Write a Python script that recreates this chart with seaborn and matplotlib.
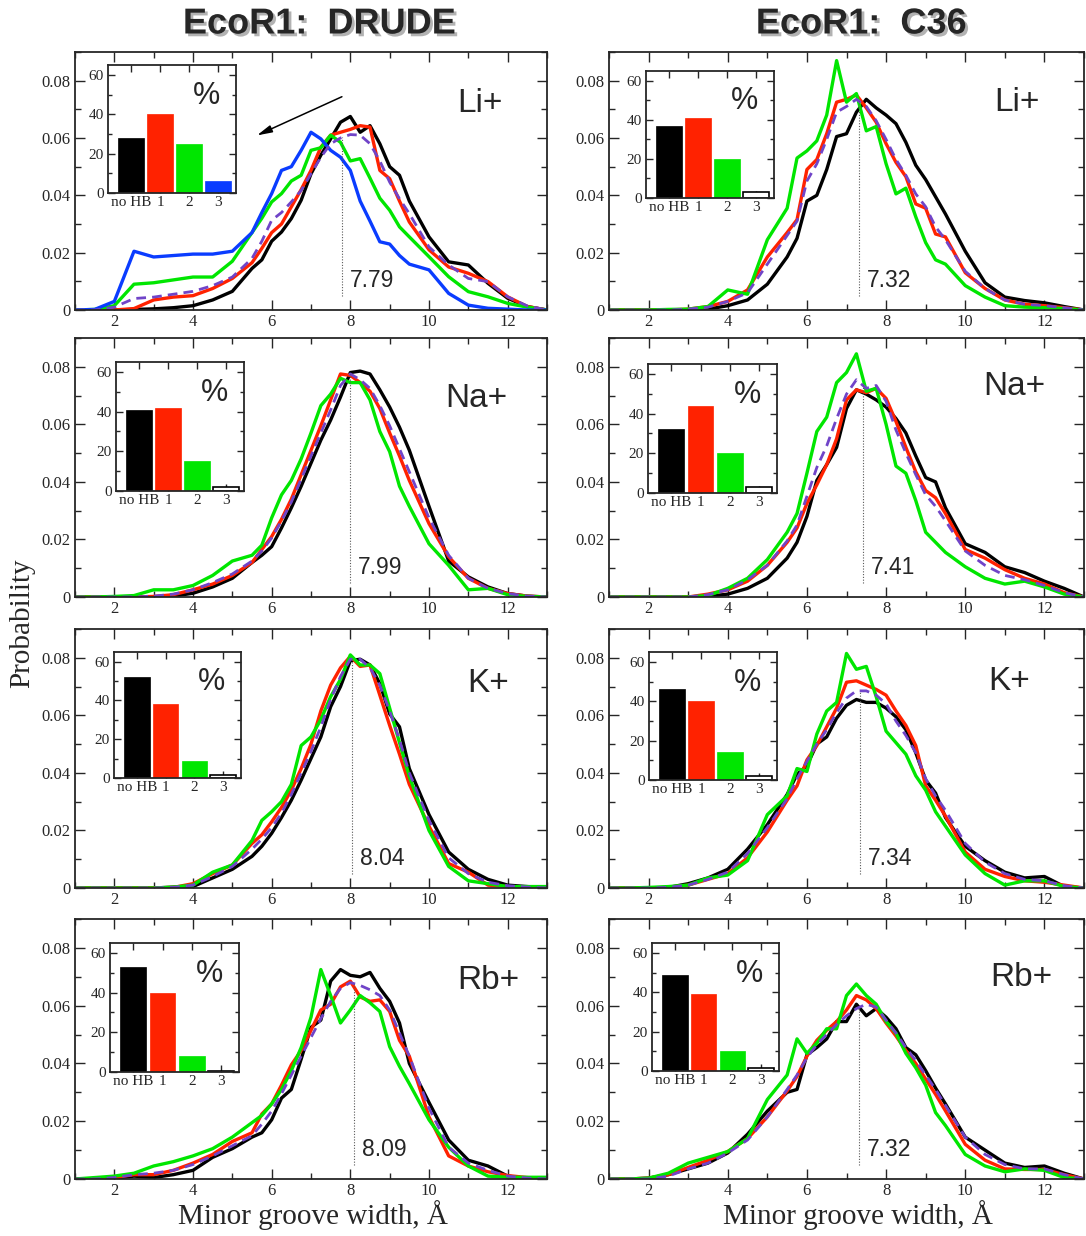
import numpy as np
import matplotlib
matplotlib.use('Agg')
import matplotlib.pyplot as plt
import matplotlib.patheffects as pe
from matplotlib.ticker import MultipleLocator, FuncFormatter
from matplotlib import font_manager
import seaborn as sns

# minor groove width grid (Angstrom), shared by every curve
width = [1, 1.5, 2, 2.5, 3, 3.5, 4, 4.5, 5, 5.5, 5.75, 6, 6.25, 6.5, 6.75, 7, 7.25,
         7.5, 7.75, 8, 8.25, 8.5, 8.75, 9, 9.25, 9.5, 10, 10.5, 11, 11.5, 12, 12.5, 13]

ions = ['Li+', 'Na+', 'K+', 'Rb+']
hb_cats = ['no HB', '1', '2', '3']

# ---------------- DRUDE ----------------
drude_li_nohb = [0, 0, 0, .0002, .0004, .0008, .0015, .0035, .0065, .0145, .0175, .024, .0272, .0319, .0383, .0475, .054,
                 .0597, .0655, .0675, .062, .0643, .058, .050, .047, .038, .0255, .0168, .0157, .0093, .0041, .0012, 0]
drude_li_hb1 = [0, 0, 0, .0005, .0035, .0045, .005, .0075, .011, .0165, .0215, .027, .030, .036, .042, .0487, .0568,
                .061, .062, .063, .0643, .0638, .0487, .0458, .038, .0307, .021, .015, .0128, .0099, .0046, .0012, 0]
drude_li_hb2 = [0, .0002, .0015, .009, .0095, .0105, .0115, .0115, .017, .027, .032, .0377, .0406, .045, .047, .0557, .0566,
                .061, .0585, .052, .0528, .046, .039, .0348, .029, .0255, .0186, .0116, .0064, .0046, .0023, .001, 0]
drude_li_hb3 = [0, .0002, .003, .0205, .0185, .019, .0195, .0195, .0205, .027, .034, .0406, .0487, .050, .0557, .062, .0597,
                .0557, .0533, .0487, .038, .031, .0238, .023, .019, .016, .014, .0058, .0017, .0006, .0003, 0, 0]
drude_li_all = [0, 0, .001, .004, .0045, .0055, .0065, .0085, .0115, .018, .024, .0313, .034, .0377, .0417, .0475, .0533,
                .058, .060, .0612, .061, .058, .052, .0446, .0388, .0336, .022, .0157, .011, .0099, .0046, .0014, 0]

drude_na_nohb = [0, 0, 0, 0, 0, .0003, .0013, .0035, .0065, .012, .0145, .0175, .024, .031, .0385, .0465, .0545,
                 .0615, .0695, .078, .0785, .0775, .072, .066, .059, .051, .0315, .0125, .007, .0035, .0012, .0003, 0]
drude_na_hb1 = [0, 0, 0, 0, .0002, .0008, .0025, .0045, .0075, .012, .0165, .021, .027, .034, .0425, .051, .0595,
                .0685, .0775, .077, .0745, .0715, .0655, .057, .049, .0405, .0255, .014, .0065, .003, .0012, .0003, 0]
drude_na_hb2 = [0, 0, .0002, .0005, .0025, .0025, .004, .0075, .0125, .0145, .018, .0275, .0355, .0405, .048, .057, .0665,
                .0705, .076, .0745, .0745, .0685, .0575, .0505, .0385, .0315, .0185, .011, .0025, .003, .0008, .0002, 0]
drude_na_all = [0, 0, 0, 0, .0003, .001, .0025, .005, .008, .0125, .016, .0205, .0265, .033, .041, .049, .057,
                .065, .0735, .0775, .0755, .0725, .0665, .0595, .0515, .0435, .0275, .0145, .0065, .003, .0012, .0003, 0]

drude_k_nohb = [0, 0, 0, 0, 0, .0003, .0005, .0035, .0065, .011, .0145, .019, .0245, .0305, .0375, .045, .0525,
                .063, .070, .079, .0795, .0775, .071, .0605, .056, .0415, .0255, .0125, .0065, .003, .001, .0005, 0]
drude_k_hb1 = [0, 0, 0, 0, 0, .0002, .0015, .005, .008, .0155, .0185, .023, .028, .034, .0415, .050, .0615,
               .0705, .0765, .0805, .077, .0775, .067, .0565, .0465, .036, .0215, .0085, .0055, .001, .0005, .0002, 0]
drude_k_hb2 = [0, 0, 0, 0, 0, .0003, .001, .0055, .008, .0165, .0235, .0265, .030, .036, .0495, .0525, .0585,
               .0665, .0725, .081, .0775, .0775, .0745, .0625, .0505, .0388, .020, .0075, .0025, .0015, .0005, .0005, .0005]
drude_k_all = [0, 0, 0, 0, 0, .0002, .001, .004, .0075, .0135, .017, .021, .026, .0325, .040, .0475, .056,
               .0655, .0735, .0795, .0795, .0765, .0705, .0615, .0515, .040, .0235, .0105, .005, .002, .0008, .0003, 0]

drude_rb_nohb = [0, 0, .0002, .001, .0005, .0015, .003, .0075, .0105, .0145, .016, .0205, .028, .031, .0415, .0525, .055,
                 .0685, .0725, .0705, .070, .0715, .066, .0615, .054, .040, .0265, .0135, .0065, .0045, .001, .0002, 0]
drude_rb_hb1 = [0, 0, .0005, .0015, .0015, .003, .0055, .0085, .013, .016, .0225, .026, .0325, .0395, .0445, .0515, .0585,
                .0605, .0665, .0685, .063, .0615, .062, .058, .048, .0425, .0215, .008, .0045, .0025, .0012, .0005, 0]
drude_rb_hb2 = [0, .0005, .001, .002, .0045, .006, .008, .0105, .0145, .0195, .022, .026, .031, .0375, .0455, .056, .0725,
                .0635, .054, .0585, .0635, .061, .058, .0458, .039, .033, .0205, .011, .0045, .001, .0006, .0006, .0006]
drude_rb_all = [0, 0, .0005, .0015, .002, .003, .005, .008, .0115, .015, .019, .0235, .0295, .036, .0425, .049, .0555,
                .0615, .066, .068, .067, .0655, .0635, .0585, .0505, .0425, .0245, .011, .0055, .003, .001, .0003, 0]

# ---------------- C36 ----------------
c36_li_nohb = [0, 0, 0, 0, 0, .0003, .0015, .0035, .009, .0185, .025, .038, .040, .049, .0605, .0615, .069,
               .0735, .0705, .068, .065, .0585, .0505, .0455, .0395, .0335, .0205, .0095, .0045, .0033, .0025, .0012, 0]
c36_li_hb1 = [0, 0, 0, 0, .0003, .0012, .003, .007, .0185, .027, .0315, .049, .0525, .0615, .0725, .0735, .075,
              .0705, .0655, .058, .0515, .0465, .037, .0355, .0265, .0255, .013, .0075, .0035, .002, .0015, .0008, 0]
c36_li_hb2 = [0, 0, 0, .0002, .0003, .0012, .007, .0055, .0245, .0355, .053, .0555, .059, .068, .087, .0725, .0755,
              .0625, .064, .051, .0405, .0425, .0325, .0235, .0175, .016, .0085, .0045, .0015, .001, .0008, .0005, 0]
c36_li_all = [0, 0, 0, 0, .0003, .001, .003, .006, .016, .026, .031, .045, .051, .0595, .069, .071, .0735,
              .071, .066, .0595, .0525, .047, .0405, .036, .029, .0245, .0135, .0075, .0035, .002, .0015, .0008, 0]

c36_na_nohb = [0, 0, 0, 0, 0, .0002, .001, .003, .0065, .0135, .019, .028, .0405, .046, .052, .0655, .072,
               .0705, .0685, .066, .062, .057, .049, .0415, .040, .031, .0185, .0155, .0105, .0085, .0055, .003, 0]
c36_na_hb1 = [0, 0, 0, 0, 0, .001, .0025, .0055, .011, .019, .024, .0325, .039, .046, .055, .0685, .072,
              .071, .0725, .069, .061, .052, .0435, .037, .0345, .029, .0165, .0135, .0095, .0065, .0045, .0015, 0]
c36_na_hb2 = [0, 0, 0, 0, 0, .0005, .003, .0065, .013, .0225, .029, .043, .0575, .0625, .0745, .078, .0845,
              .0715, .0725, .060, .0455, .043, .0335, .0225, .019, .0155, .0105, .0065, .0045, .0055, .0035, .001, 0]
c36_na_all = [0, 0, 0, 0, 0, .0008, .0025, .006, .011, .0195, .025, .035, .045, .0525, .062, .0705, .0755,
              .0725, .0735, .068, .058, .050, .0425, .0355, .0315, .0265, .016, .011, .0075, .006, .004, .0015, 0]

c36_k_nohb = [0, 0, 0, .0002, .0015, .0035, .0065, .0135, .022, .0325, .0395, .0425, .050, .0525, .059, .0635, .0655,
              .0645, .0645, .0625, .0595, .055, .047, .0375, .033, .0245, .0145, .0095, .0055, .0035, .004, .0005, 0]
c36_k_hb1 = [0, 0, 0, .0002, .001, .003, .005, .0105, .0195, .0305, .0355, .0445, .0495, .056, .0625, .0715, .072,
             .0705, .069, .067, .0615, .0565, .0495, .0355, .0305, .025, .0125, .0065, .004, .0025, .002, .001, 0]
c36_k_hb2 = [0, 0, .0002, .0005, .001, .0035, .0045, .0095, .0255, .032, .0415, .0405, .0535, .0615, .0645, .0815, .076,
             .077, .0665, .0545, .0505, .0465, .039, .034, .0265, .0215, .0115, .005, .001, .0025, .0025, .0005, 0]
c36_k_all = [0, 0, 0, .0002, .001, .003, .0055, .012, .021, .031, .038, .044, .050, .055, .061, .066, .0685,
             .0685, .067, .064, .058, .053, .047, .038, .032, .027, .0155, .009, .005, .003, .0025, .0008, 0]

c36_rb_nohb = [0, 0, .0003, .0015, .0035, .0055, .009, .0155, .0235, .030, .031, .043, .0455, .0485, .0545, .0545, .0605,
               .0565, .059, .056, .052, .0455, .043, .0375, .0315, .026, .0145, .010, .0055, .004, .0045, .002, 0]
c36_rb_hb1 = [0, 0, .0003, .0015, .004, .0065, .0095, .014, .0215, .0305, .0355, .0425, .048, .0515, .0545, .0585, .0635,
              .062, .059, .054, .0495, .0445, .040, .0346, .0293, .0236, .012, .0065, .0035, .0033, .0033, .0015, 0]
c36_rb_hb2 = [0, 0, .0003, .002, .0055, .0075, .0095, .014, .0275, .036, .0485, .0435, .047, .052, .052, .0635, .0675,
              .0635, .0605, .0545, .0505, .0435, .0385, .0325, .023, .0185, .0085, .0045, .0025, .0035, .003, .0005, 0]
c36_rb_all = [0, 0, 0, .001, .0035, .0055, .009, .0135, .0215, .031, .036, .042, .0465, .050, .0535, .0565, .059,
              .0605, .0595, .055, .0505, .0455, .041, .036, .031, .0255, .0145, .0085, .005, .0035, .0035, .0015, 0]

# average groove widths (dotted line + label)
drude_means = [7.79, 7.99, 8.04, 8.09]
c36_means = [7.32, 7.41, 7.34, 7.32]

# H-bond population, % (no HB, 1, 2, 3)
drude_hb_pct = [[28, 40, 25, 6], [41, 42, 15, 2], [52, 38, 9, 1.5], [53, 40, 8, 0.4]]
c36_hb_pct = [[37, 41, 20, 3], [32, 44, 20, 3], [46, 40, 14, 2], [49, 39, 10, 1.5]]

curves = {
    'drude': {
        'Li+': [drude_li_nohb, drude_li_hb1, drude_li_hb2, drude_li_hb3, drude_li_all],
        'Na+': [drude_na_nohb, drude_na_hb1, drude_na_hb2, None, drude_na_all],
        'K+': [drude_k_nohb, drude_k_hb1, drude_k_hb2, None, drude_k_all],
        'Rb+': [drude_rb_nohb, drude_rb_hb1, drude_rb_hb2, None, drude_rb_all],
    },
    'c36': {
        'Li+': [c36_li_nohb, c36_li_hb1, c36_li_hb2, None, c36_li_all],
        'Na+': [c36_na_nohb, c36_na_hb1, c36_na_hb2, None, c36_na_all],
        'K+': [c36_k_nohb, c36_k_hb1, c36_k_hb2, None, c36_k_all],
        'Rb+': [c36_rb_nohb, c36_rb_hb1, c36_rb_hb2, None, c36_rb_all],
    },
}
means = {'drude': drude_means, 'c36': c36_means}
hb_pct = {'drude': drude_hb_pct, 'c36': c36_hb_pct}

BLACK, RED, GREEN, BLUE, PURPLE = 'black', '#ff2200', '#00e600', '#0a3cff', '#7044c8'
line_cols = [BLACK, RED, GREEN, BLUE]

# ---- layout (pixels of the 1086x1236 canvas) ----
W, H = 1086, 1236
col_x = {'drude': (75, 547), 'c36': (609, 1084)}
row_y = [(52, 310), (338, 597), (629, 888), (919, 1179)]
inset_px = {
    'drude': [(108, 65, 236, 193), (116, 362, 244, 491), (114, 652, 241, 778), (110, 943, 239, 1072)],
    'c36': [(646, 71, 774, 198), (648, 364, 777, 493), (649, 652, 777, 780), (652, 943, 779, 1071)],
}
ion_pos = {
    'drude': [(0.858, 0.80), (0.851, 0.768), (0.875, 0.79), (0.875, 0.764)],
    'c36': [(0.859, 0.806), (0.853, 0.812), (0.843, 0.797), (0.867, 0.776)],
}

sns.set_style('ticks')
plt.rcParams['font.family'] = ['Liberation Serif', 'DejaVu Serif']
avail = {f.name for f in font_manager.fontManager.ttflist}
title_font = 'Liberation Sans Narrow' if 'Liberation Sans Narrow' in avail else 'Liberation Sans'

fig = plt.figure(figsize=(W / 100, H / 100), dpi=100)


def px_box(x0, y0, x1, y1):
    return [x0 / W, 1 - y1 / H, (x1 - x0) / W, (y1 - y0) / H]


def style_ticks(a, size, major, minor):
    a.tick_params(which='both', direction='in', top=True, right=True, width=1.0,
                  labelsize=size, pad=3)
    a.tick_params(which='major', length=major)
    a.tick_params(which='minor', length=minor)
    for s in a.spines.values():
        s.set_linewidth(1.3)


for model in ['drude', 'c36']:
    x0, x1 = col_x[model]
    for i, ion in enumerate(ions):
        y0, y1 = row_y[i]
        ax = fig.add_axes(px_box(x0, y0, x1, y1))
        sets = curves[model][ion]
        for vals, c in zip(sets[:4], line_cols):
            if vals is None:
                continue
            sns.lineplot(x=width, y=vals, ax=ax, color=c, lw=2.4, errorbar=None)
        sns.lineplot(x=width, y=sets[4], ax=ax, color=PURPLE, lw=2.0, errorbar=None,
                     linestyle=(0, (3.5, 2.2)))

        m = means[model][i]
        top = np.interp(m, width, sets[4])
        ax.plot([m, m], [0.005, top], color='0.35', lw=0.8, ls=(0, (1, 1.5)))
        ax.text(m + 0.2, 0.0103, f'{m:.2f}', fontsize=16.5, family='Liberation Sans',
                ha='left', va='center')
        px, py = ion_pos[model][i]
        ax.text(px, py, ion, transform=ax.transAxes, fontsize=24,
                family='Liberation Sans', ha='center', va='center')

        ax.set_xlim(1, 13)
        ax.set_ylim(0, 0.09)
        ax.xaxis.set_major_locator(MultipleLocator(2))
        ax.xaxis.set_minor_locator(MultipleLocator(1))
        ax.yaxis.set_major_locator(MultipleLocator(0.02))
        ax.yaxis.set_minor_locator(MultipleLocator(0.01))
        ax.yaxis.set_major_formatter(FuncFormatter(lambda v, p: '0' if abs(v) < 1e-9 else f'{v:.2f}'))
        ax.set_xticks([2, 4, 6, 8, 10, 12])
        ax.set_xlabel('')
        ax.set_ylabel('')
        style_ticks(ax, 12, 7, 4)

        if model == 'drude' and ion == 'Li+':
            ax.annotate('', xy=(5.56, 0.0605), xytext=(7.85, 0.0748),
                        arrowprops=dict(arrowstyle='-|>,head_length=0.9,head_width=0.22',
                                        color='black', lw=1.1))

        # inset: H-bond populations
        ins = fig.add_axes(px_box(*inset_px[model][i]))
        pct = hb_pct[model][i]
        bar_cols = [BLACK, RED, GREEN, BLUE if sets[3] is not None else 'white']
        sns.barplot(x=hb_cats, y=pct, hue=hb_cats, palette=bar_cols, legend=False,
                    ax=ins, width=0.885, saturation=1)
        for patch, c in zip(ins.patches, bar_cols):
            if c == 'white':
                patch.set_edgecolor('black')
                patch.set_linewidth(1.2)
            else:
                patch.set_edgecolor(c)
                patch.set_linewidth(0.5)
        ins.set_xlim(-0.8, 3.62)
        ins.set_ylim(0, 65)
        ins.set_yticks([0, 20, 40, 60])
        ins.yaxis.set_minor_locator(MultipleLocator(10))
        ins.set_xlabel('')
        ins.set_ylabel('')
        style_ticks(ins, 11, 5, 3)
        ins.tick_params(axis='x', which='major', pad=2)
        ins.text(0.77, 0.76, '%', transform=ins.transAxes, fontsize=22,
                 family='Liberation Sans', ha='center', va='center')

shadow = [pe.SimplePatchShadow(offset=(2, -2), shadow_rgbFace='0.5', alpha=0.6), pe.Normal()]
fig.text(319 / W, 1 - 24 / H, 'EcoR1:  DRUDE', fontsize=26, weight='bold',
         family=title_font, ha='center', va='center', path_effects=shadow)
fig.text(861 / W, 1 - 24 / H, 'EcoR1:  C36', fontsize=26, weight='bold',
         family=title_font, ha='center', va='center', path_effects=shadow)

fig.text(313 / W, 1 - 1215 / H, 'Minor groove width, Å', fontsize=21, ha='center', va='center')
fig.text(858 / W, 1 - 1215 / H, 'Minor groove width, Å', fontsize=21, ha='center', va='center')
fig.text(22 / W, 1 - 623 / H, 'Probability', fontsize=21, rotation=90, ha='center', va='center')

fig.savefig('out.png', dpi=100)
